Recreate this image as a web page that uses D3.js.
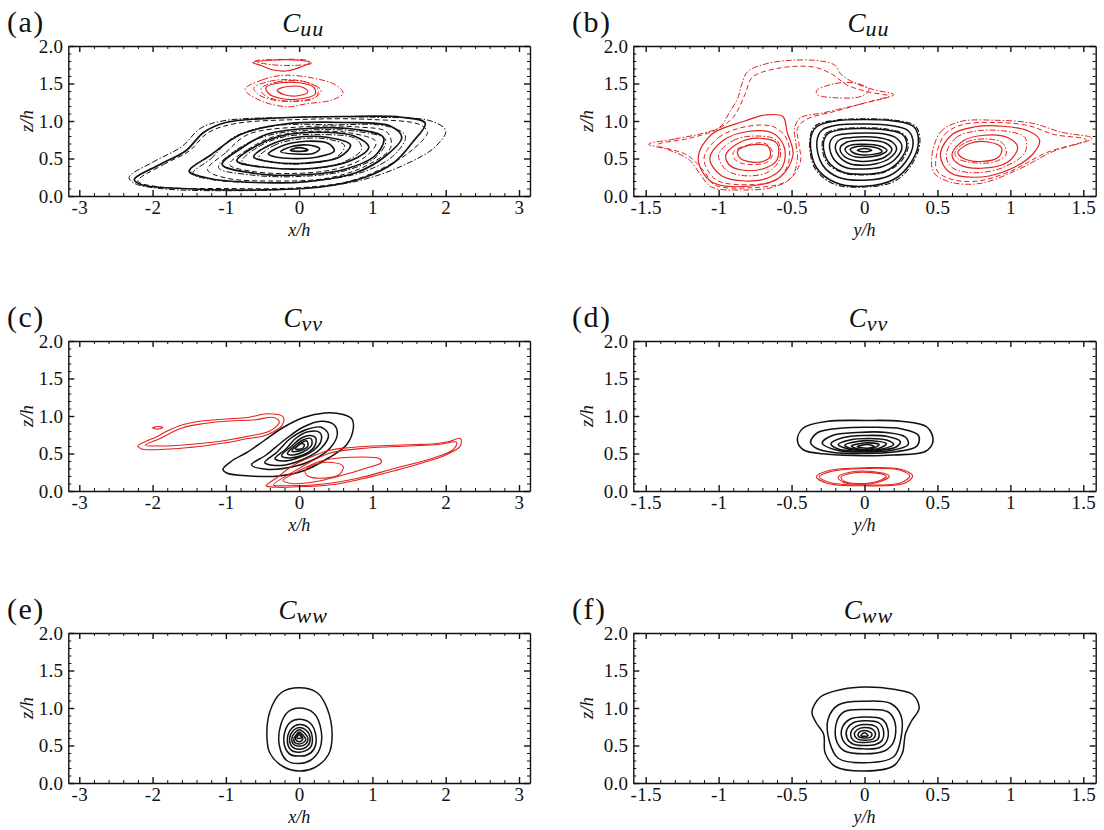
<!DOCTYPE html>
<html>
<head>
<meta charset="utf-8">
<script src="https://cdn.jsdelivr.net/npm/d3@7"></script>
<style>
body { margin: 0; background: #fff; }
svg, svg text { font-family: "Liberation Serif", "Times New Roman", "DejaVu Serif", serif !important; }
text { fill: #111; }
.axis path, .axis line { stroke: #111; stroke-width: 1.4; }
.minor line { stroke: #111; stroke-width: 1; }
</style>
</head>
<body>
<div id="fig"></div>
<script>
// ---- ticks / labels ----
var xTicksX = [-3, -2, -1, 0, 1, 2, 3];
var xTicksY = [-1.5, -1, -0.5, 0, 0.5, 1, 1.5];
var zTicks = [0, 0.5, 1, 1.5, 2];
var panelLetters = ["(a)", "(b)", "(c)", "(d)", "(e)", "(f)"];
var titleSubs = ["uu", "uu", "vv", "vv", "ww", "ww"];
var xLabels = ["x/h", "y/h", "x/h", "y/h", "x/h", "y/h"];

// ---- contour lines, each ring = [[x/h or y/h, z/h], ...] ----
// (a) Cuu, x-z plane
var uuXZ_solid = [
  [[-2.25,0.22],[-1.9,0.42],[-1.55,0.6],[-1.3,0.85],[-1.0,0.98],[-0.3,1.04],[0.6,1.06],[1.4,1.05],[1.72,0.97],[1.55,0.72],[1.3,0.45],[0.9,0.25],[0.3,0.12],[-0.6,0.08],[-1.6,0.1],[-2.15,0.15]],
  [[-1.5,0.33],[-1.2,0.55],[-0.8,0.82],[-0.2,0.96],[0.6,0.98],[1.25,0.93],[1.4,0.78],[1.2,0.55],[0.8,0.32],[0.1,0.19],[-0.6,0.18],[-1.2,0.23]],
  [[-1.05,0.42],[-0.8,0.63],[-0.45,0.82],[0.1,0.9],[0.75,0.89],[1.15,0.78],[1.05,0.55],[0.6,0.35],[0.0,0.28],[-0.6,0.3]],
  [[-0.85,0.47],[-0.6,0.66],[-0.25,0.8],[0.25,0.85],[0.75,0.8],[0.95,0.65],[0.7,0.47],[0.2,0.37],[-0.45,0.38]],
  [[-0.62,0.52],[-0.4,0.68],[-0.05,0.78],[0.4,0.78],[0.7,0.68],[0.55,0.52],[0.1,0.44],[-0.35,0.45]],
  [[-0.42,0.56],[-0.2,0.68],[0.1,0.73],[0.4,0.7],[0.48,0.6],[0.25,0.52],[-0.1,0.5],[-0.32,0.52]],
  [[-0.25,0.59],[-0.1,0.66],[0.12,0.68],[0.28,0.63],[0.2,0.57],[-0.05,0.56]],
  [[-0.12,0.61],[0.0,0.645],[0.12,0.615],[0.0,0.595]]
];
var uuXZ_dashdot = [
  [[-2.32,0.25],[-2.0,0.45],[-1.6,0.66],[-1.35,0.9],[-1.05,1.0],[0.0,1.05],[1.0,1.05],[1.8,1.0],[2.0,0.87],[1.85,0.65],[1.4,0.4],[0.8,0.2],[0.0,0.1],[-1.0,0.07],[-1.9,0.1],[-2.25,0.17]],
  [[-1.45,0.3],[-1.2,0.5],[-0.9,0.78],[-0.4,0.93],[0.5,0.95],[1.2,0.93],[1.45,0.8],[1.3,0.55],[0.9,0.33],[0.2,0.2],[-0.6,0.18],[-1.2,0.22]],
  [[-1.1,0.38],[-0.85,0.62],[-0.45,0.8],[0.15,0.88],[0.8,0.86],[1.18,0.75],[1.05,0.52],[0.6,0.33],[0.0,0.26],[-0.65,0.28]],
  [[-0.78,0.46],[-0.55,0.66],[-0.2,0.79],[0.3,0.82],[0.78,0.76],[0.85,0.62],[0.6,0.45],[0.15,0.36],[-0.4,0.38]],
  [[-0.55,0.51],[-0.35,0.67],[0.0,0.76],[0.38,0.76],[0.62,0.67],[0.5,0.51],[0.08,0.43],[-0.3,0.44]]
];
var uuXZ_dashed = [
  [[-2.2,0.2],[-1.85,0.42],[-1.5,0.6],[-1.25,0.84],[-0.9,0.96],[0.0,1.02],[1.0,1.02],[1.65,0.95],[1.75,0.85],[1.55,0.62],[1.2,0.4],[0.7,0.2],[0.0,0.11],[-1.0,0.1],[-1.9,0.12]],
  [[-1.25,0.35],[-1.0,0.58],[-0.7,0.82],[0.0,0.92],[0.8,0.92],[1.2,0.85],[1.25,0.65],[0.95,0.42],[0.4,0.24],[-0.4,0.2],[-1.0,0.24]],
  [[-0.95,0.42],[-0.7,0.62],[-0.35,0.79],[0.2,0.86],[0.7,0.84],[1.05,0.72],[0.9,0.52],[0.5,0.36],[-0.1,0.3],[-0.65,0.33]]
];
var uuXZ_red_solid = [
  [[-0.63,1.78],[-0.4,1.81],[0.0,1.81],[0.15,1.78],[0.02,1.72],[-0.15,1.67],[-0.35,1.68],[-0.52,1.74]],
  [[-0.45,1.45],[-0.25,1.51],[0.0,1.51],[0.2,1.45],[0.22,1.36],[0.05,1.3],[-0.25,1.3],[-0.42,1.37]],
  [[-0.3,1.41],[-0.15,1.46],[0.05,1.45],[0.12,1.39],[0.0,1.34],[-0.2,1.35]]
];
var uuXZ_red_dashdot = [
  [[-0.6,1.8],[-0.3,1.82],[0.1,1.81],[0.17,1.77],[-0.1,1.74],[-0.45,1.76]],
  [[-0.74,1.42],[-0.5,1.55],[-0.2,1.61],[0.2,1.57],[0.5,1.48],[0.6,1.37],[0.45,1.28],[0.1,1.23],[-0.15,1.19],[-0.5,1.26]],
  [[-0.62,1.44],[-0.4,1.53],[-0.1,1.55],[0.15,1.5],[0.3,1.41],[0.2,1.3],[-0.05,1.26],[-0.35,1.28],[-0.55,1.35]],
  [[-0.52,1.43],[-0.3,1.52],[0.05,1.53],[0.25,1.44],[0.24,1.33],[0.0,1.27],[-0.3,1.28],[-0.48,1.35]]
];

// (b) Cuu, y-z plane
var uuYZ_solid = [
  [[-0.37,0.75],[-0.33,0.92],[-0.2,1.0],[0.0,1.02],[0.2,1.0],[0.34,0.92],[0.37,0.72],[0.32,0.45],[0.2,0.22],[0.0,0.13],[-0.2,0.18],[-0.33,0.38]],
  [[-0.327,0.72],[-0.29,0.88],[-0.17,0.95],[0.0,0.96],[0.18,0.94],[0.3,0.87],[0.333,0.7],[0.28,0.45],[0.17,0.27],[0.0,0.21],[-0.18,0.25],[-0.29,0.42]],
  [[-0.282,0.7],[-0.25,0.83],[-0.14,0.89],[0.0,0.9],[0.15,0.88],[0.26,0.82],[0.29,0.68],[0.24,0.47],[0.14,0.33],[0.0,0.29],[-0.15,0.32],[-0.25,0.46]],
  [[-0.24,0.68],[-0.21,0.79],[-0.12,0.83],[0.0,0.84],[0.13,0.83],[0.22,0.77],[0.257,0.66],[0.21,0.49],[0.12,0.39],[0.0,0.36],[-0.13,0.38],[-0.21,0.49]],
  [[-0.2,0.66],[-0.17,0.75],[-0.09,0.78],[0.02,0.79],[0.12,0.77],[0.19,0.72],[0.22,0.63],[0.17,0.5],[0.08,0.43],[0.0,0.41],[-0.1,0.43],[-0.17,0.52]],
  [[-0.167,0.64],[-0.13,0.71],[-0.05,0.74],[0.05,0.74],[0.14,0.71],[0.188,0.62],[0.14,0.52],[0.05,0.47],[-0.06,0.47],[-0.14,0.53]],
  [[-0.133,0.63],[-0.09,0.68],[0.0,0.69],[0.1,0.67],[0.154,0.61],[0.11,0.55],[0.03,0.52],[-0.06,0.52],[-0.11,0.56]],
  [[-0.098,0.62],[-0.05,0.66],[0.03,0.66],[0.1,0.63],[0.12,0.59],[0.06,0.555],[-0.03,0.55],[-0.08,0.58]],
  [[-0.05,0.61],[0.0,0.635],[0.05,0.61],[0.0,0.59]]
];
var uuYZ_dashdot = [
  [[-0.375,0.74],[-0.34,0.93],[-0.2,1.01],[0.0,1.03],[0.21,1.01],[0.35,0.93],[0.38,0.72],[0.33,0.44],[0.21,0.2],[0.0,0.12],[-0.21,0.16],[-0.34,0.37]],
  [[-0.29,0.7],[-0.26,0.84],[-0.14,0.9],[0.0,0.91],[0.16,0.89],[0.27,0.82],[0.3,0.67],[0.25,0.46],[0.14,0.32],[0.0,0.28],[-0.15,0.31],[-0.26,0.45]]
];
var uuYZ_red_solid = [
  [[-1.14,0.5],[-1.05,0.82],[-0.82,1.0],[-0.68,1.08],[-0.56,1.06],[-0.53,0.85],[-0.49,0.55],[-0.58,0.25],[-0.8,0.13],[-1.05,0.19]],
  [[-1.06,0.5],[-0.97,0.74],[-0.8,0.86],[-0.63,0.84],[-0.55,0.65],[-0.56,0.4],[-0.65,0.25],[-0.82,0.2],[-0.98,0.27]],
  [[-0.95,0.55],[-0.85,0.72],[-0.72,0.77],[-0.6,0.7],[-0.6,0.48],[-0.7,0.36],[-0.85,0.35],[-0.93,0.42]],
  [[-0.87,0.6],[-0.78,0.68],[-0.66,0.66],[-0.65,0.52],[-0.73,0.45],[-0.85,0.5]],
  [[0.52,0.55],[0.6,0.82],[0.75,0.92],[0.95,0.93],[1.12,0.87],[1.2,0.75],[1.15,0.55],[0.95,0.32],[0.75,0.25],[0.58,0.32]],
  [[0.6,0.55],[0.68,0.74],[0.82,0.81],[0.98,0.78],[1.05,0.65],[0.98,0.45],[0.8,0.37],[0.65,0.42]],
  [[0.64,0.58],[0.72,0.7],[0.85,0.72],[0.94,0.64],[0.92,0.52],[0.8,0.46],[0.68,0.5]]
];
var uuYZ_red_dashed = [
  [[-1.1,0.5],[-1.0,0.78],[-0.8,0.93],[-0.62,0.92],[-0.53,0.75],[-0.52,0.45],[-0.6,0.22],[-0.8,0.15],[-1.02,0.22]],
  [[-0.9,0.58],[-0.8,0.68],[-0.68,0.7],[-0.63,0.58],[-0.66,0.46],[-0.78,0.42],[-0.88,0.47]],
  [[0.49,0.5],[0.55,0.82],[0.67,0.95],[0.9,0.98],[1.12,0.94],[1.3,0.82],[1.52,0.75],[1.25,0.58],[1.0,0.33],[0.78,0.2],[0.6,0.22],[0.5,0.33]],
  [[-1.42,0.68],[-1.2,0.77],[-1.02,0.88],[-0.9,1.05],[-0.82,1.35],[-0.77,1.58],[-0.6,1.7],[-0.35,1.72],[-0.22,1.62],[-0.12,1.48],[0.02,1.39],[0.17,1.33],[0.0,1.24],[-0.2,1.13],[-0.4,1.02],[-0.46,0.9],[-0.45,0.7],[-0.44,0.45],[-0.53,0.2],[-0.78,0.11],[-1.03,0.15],[-1.1,0.33],[-1.22,0.55]]
];
var uuYZ_red_dashdot = [
  [[-1.48,0.69],[-1.3,0.76],[-1.1,0.84],[-0.99,0.92],[-0.93,1.1],[-0.87,1.3],[-0.84,1.5],[-0.8,1.66],[-0.68,1.76],[-0.5,1.81],[-0.3,1.8],[-0.2,1.74],[-0.16,1.62],[-0.06,1.5],[0.06,1.42],[0.2,1.35],[0.1,1.29],[-0.08,1.2],[-0.28,1.11],[-0.44,1.04],[-0.48,0.9],[-0.47,0.7],[-0.46,0.5],[-0.5,0.25],[-0.62,0.12],[-0.85,0.08],[-1.05,0.12],[-1.13,0.3],[-1.2,0.48],[-1.35,0.62]],
  [[-0.33,1.4],[-0.2,1.5],[-0.05,1.5],[0.03,1.42],[-0.02,1.33],[-0.2,1.31],[-0.32,1.35]],
  [[-1.0,0.55],[-0.9,0.74],[-0.75,0.8],[-0.6,0.74],[-0.58,0.5],[-0.66,0.32],[-0.82,0.27],[-0.95,0.35]],
  [[0.46,0.5],[0.52,0.85],[0.65,0.99],[0.9,1.01],[1.15,0.97],[1.35,0.85],[1.56,0.77],[1.3,0.6],[1.05,0.35],[0.8,0.17],[0.6,0.18],[0.48,0.3]],
  [[0.56,0.55],[0.63,0.78],[0.78,0.87],[0.98,0.86],[1.1,0.78],[1.1,0.58],[0.95,0.38],[0.75,0.31],[0.6,0.38]],
  [[0.62,0.58],[0.7,0.72],[0.85,0.76],[0.95,0.7],[0.97,0.55],[0.88,0.45],[0.72,0.45],[0.64,0.5]]
];

// (c) Cvv, x-z plane
var vvXZ_black = [
  [[-1.04,0.29],[-0.92,0.4],[-0.72,0.51],[-0.48,0.67],[-0.23,0.84],[0.06,0.98],[0.35,1.04],[0.6,1.02],[0.72,0.96],[0.74,0.84],[0.65,0.62],[0.4,0.44],[0.06,0.27],[-0.28,0.2],[-0.67,0.2],[-0.99,0.24]],
  [[-0.65,0.35],[-0.45,0.48],[-0.2,0.68],[0.05,0.85],[0.3,0.93],[0.48,0.88],[0.52,0.75],[0.42,0.57],[0.2,0.42],[-0.1,0.32],[-0.45,0.29]],
  [[-0.47,0.38],[-0.3,0.52],[-0.12,0.7],[0.1,0.82],[0.3,0.85],[0.4,0.75],[0.3,0.57],[0.05,0.42],[-0.25,0.34]],
  [[-0.33,0.43],[-0.18,0.56],[-0.05,0.7],[0.12,0.79],[0.28,0.78],[0.3,0.67],[0.18,0.53],[-0.05,0.43],[-0.22,0.4]],
  [[-0.24,0.47],[-0.1,0.6],[0.02,0.7],[0.15,0.74],[0.23,0.7],[0.2,0.58],[0.05,0.48],[-0.13,0.44]],
  [[-0.16,0.5],[-0.05,0.61],[0.05,0.68],[0.16,0.7],[0.17,0.61],[0.05,0.52],[-0.08,0.48]],
  [[-0.1,0.53],[0.0,0.62],[0.1,0.67],[0.12,0.6],[0.02,0.54]],
  [[-0.05,0.56],[0.02,0.63],[0.07,0.62],[0.05,0.57]]
];
var vvXZ_red = [
  [[-2.2,0.6],[-2.05,0.68],[-1.95,0.72],[-1.8,0.8],[-1.6,0.88],[-1.35,0.93],[-1.0,0.96],[-0.7,0.98],[-0.43,1.03],[-0.22,0.99],[-0.23,0.88],[-0.35,0.79],[-0.5,0.73],[-0.7,0.7],[-0.9,0.66],[-1.1,0.63],[-1.3,0.6],[-1.5,0.58],[-1.75,0.56],[-2.0,0.55],[-2.15,0.56]],
  [[-2.1,0.61],[-1.9,0.7],[-1.6,0.84],[-1.3,0.9],[-1.0,0.93],[-0.6,0.95],[-0.35,0.98],[-0.27,0.92],[-0.4,0.8],[-0.7,0.73],[-1.1,0.66],[-1.5,0.62],[-1.9,0.6]],
  [[-2.0,0.84],[-1.93,0.86],[-1.86,0.845],[-1.93,0.825]],
  [[-0.45,0.07],[-0.3,0.18],[-0.1,0.33],[0.15,0.45],[0.4,0.54],[0.7,0.58],[1.0,0.6],[1.3,0.61],[1.6,0.62],[1.85,0.63],[2.05,0.66],[2.2,0.7],[2.2,0.6],[2.0,0.48],[1.7,0.38],[1.3,0.27],[0.9,0.17],[0.5,0.09],[0.1,0.06],[-0.3,0.05]],
  [[-0.35,0.08],[0.0,0.3],[0.4,0.5],[0.9,0.57],[1.5,0.6],[1.9,0.62],[2.15,0.65],[2.1,0.55],[1.8,0.43],[1.3,0.3],[0.8,0.17],[0.3,0.09],[-0.2,0.07]],
  [[-0.22,0.14],[0.0,0.27],[0.3,0.4],[0.7,0.45],[1.1,0.43],[1.12,0.38],[0.9,0.3],[0.55,0.2],[0.2,0.12],[-0.1,0.1]],
  [[0.08,0.27],[0.2,0.35],[0.45,0.38],[0.6,0.33],[0.55,0.22],[0.3,0.17],[0.12,0.2]]
];

// (d) Cvv, y-z plane
var vvYZ_black = [
  [[-0.46,0.68],[-0.42,0.84],[-0.25,0.93],[0.0,0.94],[0.25,0.93],[0.43,0.85],[0.47,0.67],[0.42,0.53],[0.2,0.48],[0.0,0.47],[-0.25,0.49],[-0.42,0.55]],
  [[-0.37,0.65],[-0.32,0.78],[-0.15,0.84],[0.05,0.85],[0.25,0.83],[0.37,0.74],[0.36,0.6],[0.2,0.52],[0.0,0.5],[-0.2,0.51],[-0.33,0.57]],
  [[-0.29,0.64],[-0.22,0.74],[-0.05,0.78],[0.15,0.78],[0.28,0.72],[0.3,0.62],[0.18,0.54],[0.0,0.52],[-0.18,0.54]],
  [[-0.23,0.63],[-0.15,0.71],[0.0,0.74],[0.15,0.73],[0.245,0.66],[0.22,0.59],[0.1,0.54],[-0.05,0.53],[-0.18,0.56]],
  [[-0.18,0.62],[-0.1,0.68],[0.03,0.7],[0.15,0.68],[0.2,0.62],[0.12,0.56],[-0.02,0.54],[-0.13,0.57]],
  [[-0.135,0.61],[-0.05,0.66],[0.05,0.67],[0.15,0.63],[0.1,0.57],[-0.02,0.55],[-0.1,0.57]],
  [[-0.09,0.6],[0.0,0.64],[0.1,0.62],[0.06,0.57],[-0.04,0.56]],
  [[-0.05,0.59],[0.02,0.62],[0.066,0.595],[0.02,0.57]]
];
var vvYZ_red = [
  [[-0.33,0.19],[-0.25,0.27],[0.0,0.31],[0.25,0.29],[0.33,0.2],[0.27,0.1],[0.0,0.07],[-0.25,0.1]],
  [[-0.31,0.19],[-0.23,0.26],[0.0,0.3],[0.24,0.28],[0.31,0.2],[0.25,0.11],[0.0,0.08],[-0.23,0.11]],
  [[-0.18,0.19],[-0.1,0.25],[0.05,0.26],[0.17,0.2],[0.1,0.12],[-0.05,0.09],[-0.15,0.12]],
  [[-0.16,0.19],[-0.08,0.24],[0.05,0.245],[0.15,0.2],[0.09,0.13],[-0.05,0.1],[-0.14,0.13]]
];

// (e) Cww, x-z plane
var wwXZ_black = [
  [[0.0,1.27],[0.25,1.2],[0.38,1.0],[0.45,0.65],[0.4,0.38],[0.2,0.2],[0.0,0.16],[-0.22,0.22],[-0.4,0.4],[-0.44,0.62],[-0.4,0.95],[-0.25,1.2]],
  [[0.0,1.0],[0.2,0.93],[0.3,0.7],[0.28,0.45],[0.15,0.3],[0.0,0.26],[-0.17,0.3],[-0.27,0.5],[-0.25,0.78],[-0.15,0.95]],
  [[0.0,0.85],[0.15,0.8],[0.23,0.62],[0.2,0.45],[0.1,0.37],[0.0,0.36],[-0.12,0.38],[-0.2,0.5],[-0.19,0.7],[-0.12,0.81]],
  [[0.0,0.78],[0.12,0.74],[0.18,0.6],[0.15,0.47],[0.0,0.41],[-0.12,0.45],[-0.16,0.6],[-0.1,0.73]],
  [[0.0,0.74],[0.1,0.7],[0.15,0.6],[0.12,0.5],[0.0,0.45],[-0.1,0.49],[-0.13,0.6],[-0.08,0.7]],
  [[0.0,0.71],[0.08,0.66],[0.12,0.59],[0.09,0.52],[0.0,0.49],[-0.08,0.52],[-0.1,0.6],[-0.06,0.67]],
  [[0.0,0.68],[0.06,0.63],[0.09,0.58],[0.06,0.54],[0.0,0.52],[-0.06,0.54],[-0.07,0.6],[-0.04,0.64]],
  [[0.0,0.66],[0.05,0.6],[0.03,0.56],[-0.03,0.56],[-0.05,0.6]],
  [[0.0,0.645],[0.03,0.6],[-0.03,0.6]]
];

// (f) Cww, y-z plane
var wwYZ_black = [
  [[0.0,1.28],[0.2,1.25],[0.33,1.18],[0.375,1.0],[0.32,0.82],[0.28,0.65],[0.26,0.4],[0.2,0.23],[0.0,0.16],[-0.2,0.22],[-0.27,0.4],[-0.28,0.65],[-0.33,0.8],[-0.36,0.95],[-0.3,1.15],[-0.15,1.25]],
  [[0.0,1.09],[0.18,1.06],[0.25,0.9],[0.25,0.6],[0.2,0.35],[0.0,0.27],[-0.18,0.33],[-0.24,0.55],[-0.25,0.85],[-0.18,1.04]],
  [[0.0,0.98],[0.16,0.95],[0.21,0.8],[0.2,0.55],[0.14,0.43],[0.0,0.39],[-0.14,0.43],[-0.195,0.58],[-0.19,0.82],[-0.14,0.95]],
  [[0.0,0.88],[0.12,0.85],[0.16,0.72],[0.15,0.55],[0.1,0.47],[0.0,0.455],[-0.1,0.48],[-0.15,0.58],[-0.154,0.73],[-0.1,0.85]],
  [[0.0,0.83],[0.1,0.8],[0.13,0.7],[0.12,0.57],[0.07,0.51],[0.0,0.5],[-0.08,0.52],[-0.12,0.6],[-0.12,0.72],[-0.08,0.8]],
  [[0.0,0.78],[0.08,0.75],[0.1,0.67],[0.09,0.58],[0.0,0.54],[-0.07,0.56],[-0.095,0.65],[-0.07,0.74]],
  [[0.0,0.74],[0.06,0.71],[0.075,0.65],[0.06,0.59],[0.0,0.57],[-0.05,0.59],[-0.07,0.65],[-0.05,0.71]],
  [[0.0,0.7],[0.05,0.66],[0.04,0.61],[0.0,0.6],[-0.04,0.62],[-0.04,0.67]],
  [[0.0,0.67],[0.025,0.63],[-0.025,0.63]]
];

// ---- styles ----
var BLACK = "#111", RED = "#e3201c";
var DASH = "5,3", DASHDOT = "6,2,1.5,2";
var FONT = '"Liberation Serif", "Times New Roman", "DejaVu Serif", serif';

var panels = [
  { col: 0, row: 0, sets: [
      { rings: uuXZ_dashdot, color: BLACK, w: 1.0, dash: DASHDOT },
      { rings: uuXZ_dashed, color: BLACK, w: 1.0, dash: DASH },
      { rings: uuXZ_solid, color: BLACK, w: 1.7 },
      { rings: uuXZ_red_dashdot, color: RED, w: 1.0, dash: DASHDOT },
      { rings: uuXZ_red_solid, color: RED, w: 1.2 } ] },
  { col: 1, row: 0, sets: [
      { rings: uuYZ_dashdot, color: BLACK, w: 1.1, dash: DASHDOT },
      { rings: uuYZ_solid, color: BLACK, w: 1.5 },
      { rings: uuYZ_red_dashdot, color: RED, w: 1.0, dash: DASHDOT },
      { rings: uuYZ_red_dashed, color: RED, w: 1.0, dash: DASH },
      { rings: uuYZ_red_solid, color: RED, w: 1.2 } ] },
  { col: 0, row: 1, sets: [
      { rings: vvXZ_black, color: BLACK, w: 1.5 },
      { rings: vvXZ_red, color: RED, w: 1.1 } ] },
  { col: 1, row: 1, sets: [
      { rings: vvYZ_black, color: BLACK, w: 1.6 },
      { rings: vvYZ_red, color: RED, w: 1.1 } ] },
  { col: 0, row: 2, sets: [
      { rings: wwXZ_black, color: BLACK, w: 1.5 } ] },
  { col: 1, row: 2, sets: [
      { rings: wwYZ_black, color: BLACK, w: 1.5 } ] }
];

// ---- layout ----
var colLeft = [68.3, 633.3], colWidth = [461.7, 462.4];
var rowTop = [46, 341, 633], plotH = 150;
var xDomains = [[-3.15, 3.15], [-1.585, 1.585]];

var svg = d3.select("#fig").append("svg")
    .attr("width", 1104)
    .attr("height", 830)
    .style("font-family", FONT);

function fmtTick(d) {
    return d < 0 ? "-" + Math.abs(d) : String(d);
}

function minorTicks(dom, step, major) {
    var out = [];
    for (var i = Math.ceil(dom[0] / step - 1e-9); i * step <= dom[1] + 1e-9; i++) {
        var v = +(i * step).toFixed(3);
        if (major.indexOf(v) < 0) out.push(v);
    }
    return out;
}

// d3 axes set a sans-serif font on their group; drop it so the serif face is used
function cleanAxis(sel) {
    sel.attr("font-family", null).attr("font-size", null);
    sel.selectAll("text").style("font-family", FONT).style("font-size", "19px")
        .style("letter-spacing", "0.3px");
}

function drawPanel(p, k) {
    var left = colLeft[p.col], width = colWidth[p.col], top = rowTop[p.row];
    var xDom = xDomains[p.col];
    var x = d3.scaleLinear().domain(xDom).range([0, width]);
    var z = d3.scaleLinear().domain([0, 2]).range([plotH, 0]);

    var g = svg.append("g")
        .attr("transform", "translate(" + left + "," + top + ")");

    var line = d3.line()
        .x(function(d) { return x(d[0]); })
        .y(function(d) { return z(d[1]); })
        .curve(d3.curveCatmullRomClosed.alpha(0.5));

    // contour lines
    p.sets.forEach(function(s) {
        g.append("g").selectAll("path")
            .data(s.rings)
          .enter().append("path")
            .attr("d", line)
            .attr("fill", "none")
            .attr("stroke", s.color)
            .attr("stroke-width", s.w)
            .attr("stroke-dasharray", s.dash || null)
            .attr("stroke-linejoin", "round");
    });

    // axes, ticks pointing inward on all four sides
    var xMajor = p.col == 0 ? xTicksX : xTicksY;
    var xMinor = minorTicks(xDom, p.col == 0 ? 0.2 : 0.1, xMajor);
    var zMinor = minorTicks([0, 2], 0.1, zTicks);

    g.append("g").attr("class", "axis")
        .attr("transform", "translate(0," + plotH + ")")
        .call(d3.axisBottom(x).tickValues(xMajor).tickSizeInner(-6).tickSizeOuter(0)
              .tickPadding(5).tickFormat(fmtTick))
        .call(cleanAxis);
    g.append("g").attr("class", "axis")
        .call(d3.axisTop(x).tickValues(xMajor).tickSizeInner(-6).tickSizeOuter(0).tickFormat(""));
    g.append("g").attr("class", "axis")
        .call(d3.axisLeft(z).tickValues(zTicks).tickSizeInner(-6).tickSizeOuter(0)
              .tickPadding(5).tickFormat(d3.format(".1f")))
        .call(cleanAxis);
    g.append("g").attr("class", "axis")
        .attr("transform", "translate(" + width + ",0)")
        .call(d3.axisRight(z).tickValues(zTicks).tickSizeInner(-6).tickSizeOuter(0).tickFormat(""));

    // minor ticks
    [[d3.axisBottom(x).tickValues(xMinor), "translate(0," + plotH + ")"],
     [d3.axisTop(x).tickValues(xMinor), null],
     [d3.axisLeft(z).tickValues(zMinor), null],
     [d3.axisRight(z).tickValues(zMinor), "translate(" + width + ",0)"]].forEach(function(a) {
        var m = g.append("g").attr("class", "minor")
            .attr("transform", a[1])
            .call(a[0].tickSizeInner(-3).tickSizeOuter(0).tickFormat(""));
        m.select(".domain").remove();
    });

    // axis labels
    g.append("text")
        .attr("x", width / 2)
        .attr("y", plotH + 40)
        .attr("text-anchor", "middle")
        .style("font-style", "italic")
        .style("font-size", "18px")
        .text(xLabels[k]);
    g.append("text")
        .attr("transform", "translate(" + (p.col == 0 ? -35 : -40) + "," + (plotH / 2) + ") rotate(-90)")
        .attr("text-anchor", "middle")
        .style("font-style", "italic")
        .style("font-size", "19px")
        .text("z/h");

    // panel letter and title
    svg.append("text")
        .attr("x", p.col == 0 ? 7 : 572)
        .attr("y", top - 14)
        .style("font-size", "30px")
        .style("letter-spacing", "1.5px")
        .text(panelLetters[k]);
    var t = svg.append("text")
        .attr("x", left + width / 2 + 4)
        .attr("y", top - 14)
        .attr("text-anchor", "middle")
        .style("font-style", "italic");
    t.append("tspan").style("font-size", "27px").text("C");
    t.append("tspan").attr("dy", 4).style("font-size", "22px")
        .style("letter-spacing", "1px").text(titleSubs[k]);
}

panels.forEach(function(p, k) { drawPanel(p, k); });
</script>
</body>
</html>
